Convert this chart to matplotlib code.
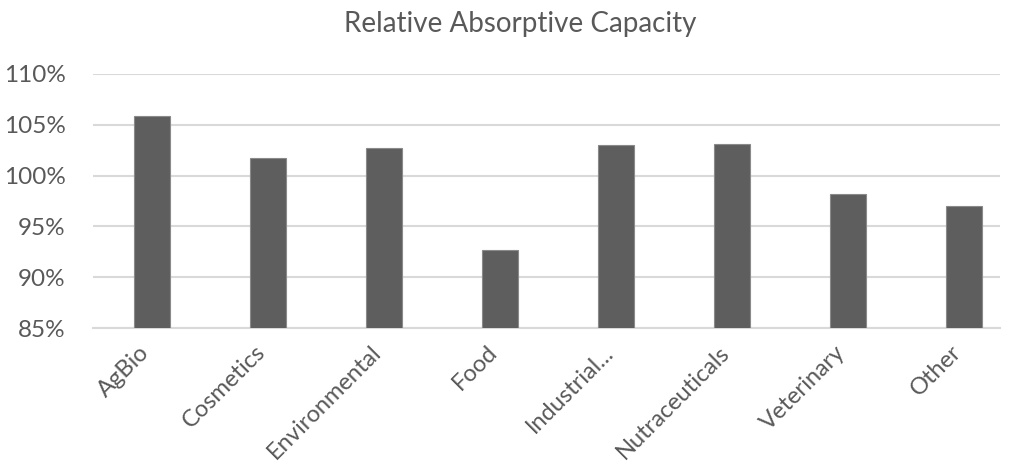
import matplotlib.pyplot as plt
from matplotlib.ticker import FuncFormatter
from matplotlib.transforms import ScaledTranslation

# Relative absorptive capacity per market segment (percent)
segments = ['AgBio', 'Cosmetics', 'Environmental', 'Food',
            'Industrial...', 'Nutraceuticals', 'Veterinary', 'Other']
capacity = [105.85, 101.73, 102.74, 92.66, 102.98, 103.07, 98.19, 97.04]

plt.rcParams['font.family'] = ['Lato', 'DejaVu Sans']
text_color = '#595959'

fig = plt.figure(figsize=(10.12, 4.74), dpi=100)
ax = fig.add_axes([93.5 / 1012, 1 - 328.3 / 474, (1000 - 93.5) / 1012, (328.3 - 73.7) / 474])

x = range(len(segments))
ax.bar(x, capacity, width=0.31, bottom=0, color='#5e5e5e',
       edgecolor='#8a8a8a', linewidth=0.8, zorder=3)

ax.set_ylim(85, 110)
ax.set_xlim(-0.5, 7.31)
ax.set_yticks(range(85, 111, 5))
ax.yaxis.set_major_formatter(FuncFormatter(lambda v, pos: f'{v:.0f}%'))
ax.grid(axis='y', color='#d9d9d9', linewidth=1.5, zorder=0)
ax.set_axisbelow(True)

for side in ['top', 'right', 'left']:
    ax.spines[side].set_visible(False)
ax.spines['bottom'].set_color('#d9d9d9')
ax.spines['bottom'].set_linewidth(1.5)

ax.tick_params(axis='y', length=0, pad=20, labelsize=17.5, labelcolor=text_color)
ax.tick_params(axis='x', length=0, pad=15, labelsize=17, labelcolor=text_color)
ax.set_xticks(list(x))
ax.set_xticklabels(segments, rotation=45, ha='right', va='center', rotation_mode='anchor')
# nudge the slanted category names so each one ends just under its bar
shift = ScaledTranslation(-6 / 100, 0, fig.dpi_scale_trans)
for lbl in ax.get_xticklabels():
    lbl.set_transform(lbl.get_transform() + shift)

fig.text(520 / 1012, 1 - 24 / 474, 'Relative Absorptive Capacity', ha='center', va='center',
         fontsize=20, color=text_color)

fig.savefig('out.png', dpi=100)
